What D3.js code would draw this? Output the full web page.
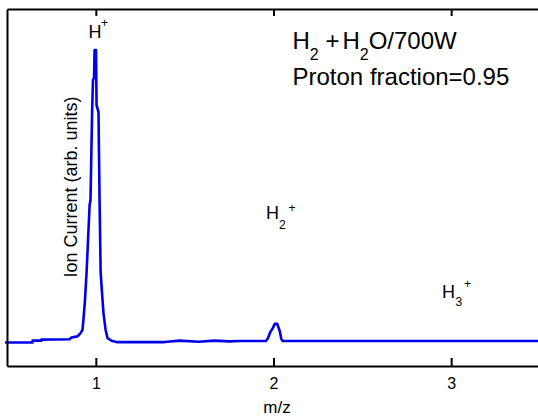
<!DOCTYPE html>
<html>
<head>
<meta charset="utf-8">
<script src="https://cdn.jsdelivr.net/npm/d3@7"></script>
<style>
  body { margin: 0; background: #fff; }
  text { font-family: "Liberation Sans", Arial, sans-serif; fill: #000; }
</style>
</head>
<body>
<script>
// m/z positions and ion current (arb. units)
var mz = [0.489, 0.644, 0.644, 0.694, 0.694, 0.852, 0.863, 0.897, 0.914, 0.925,
  0.931, 0.939, 0.948, 0.965, 0.970, 0.979, 0.984, 0.990, 0.993, 1.001,
  1.004, 1.015, 1.021, 1.027, 1.035, 1.043, 1.055, 1.066, 1.088, 1.117,
  1.387, 1.470, 1.580, 1.665, 1.750, 1.809, 1.957, 1.968, 1.982, 1.996,
  2.007, 2.021, 2.035, 2.044, 2.052, 3.500];
var current = [0.066, 0.066, 0.071, 0.071, 0.074, 0.075, 0.080, 0.083, 0.092, 0.101,
  0.134, 0.185, 0.263, 0.451, 0.465, 0.711, 0.801, 0.807, 0.885, 0.885,
  0.731, 0.711, 0.465, 0.263, 0.204, 0.148, 0.101, 0.078, 0.071, 0.067,
  0.067, 0.071, 0.068, 0.071, 0.069, 0.070, 0.070, 0.077, 0.095, 0.106,
  0.118, 0.118, 0.098, 0.076, 0.070, 0.070];
var xTicks = [1, 2, 3];

var W = 538, H = 417;
var m = { left: 7, top: 9, bottom: 366, right: 540 };

var svg = d3.select("body").append("svg")
  .attr("width", W)
  .attr("height", H);

var x = d3.scaleLinear().domain([0.5, 3.5]).range([m.left, m.right]);
var y = d3.scaleLinear().domain([0, 1]).range([m.bottom, m.top]);

var pts = mz.map(function(d, i) { return [d, current[i]]; });

var line = d3.line()
  .x(function(d) { return x(d[0]); })
  .y(function(d) { return y(d[1]); });

svg.append("path")
  .datum(pts)
  .attr("d", line)
  .attr("fill", "none")
  .attr("stroke", "#0000ea")
  .attr("stroke-width", 2.6)
  .attr("stroke-linejoin", "round");

// axes
var gx = svg.append("g")
  .attr("transform", "translate(0," + m.bottom + ")")
  .call(d3.axisBottom(x).tickValues(xTicks).tickFormat(d3.format("d"))
    .tickSizeInner(-8).tickSizeOuter(0).tickPadding(11.5));

var gt = svg.append("g")
  .attr("transform", "translate(0," + m.top + ")")
  .call(d3.axisTop(x).tickValues(xTicks).tickFormat("")
    .tickSizeInner(-7).tickSizeOuter(0));

var gl = svg.append("g")
  .attr("transform", "translate(" + m.left + ",0)")
  .call(d3.axisLeft(y).tickValues([]).tickSizeOuter(0));

[gx, gt, gl].forEach(function(g) {
  g.select(".domain").attr("stroke", "#000").attr("stroke-width", 2);
  g.selectAll(".tick line").attr("stroke", "#000").attr("stroke-width", 2);
});
gx.selectAll(".tick text")
  .style("font-family", "Liberation Sans, Arial, sans-serif")
  .style("font-size", "16px")
  .attr("fill", "#000");

svg.append("text")
  .attr("x", 277).attr("y", 413)
  .attr("text-anchor", "middle")
  .style("font-size", "17px")
  .text("m/z");

svg.append("text")
  .attr("transform", "translate(77,187) rotate(-90)")
  .attr("text-anchor", "middle")
  .style("font-size", "18px")
  .text("Ion Current (arb. units)");

// peak labels
function ionLabel(px, py, sub, subX, subY, supX, supY) {
  svg.append("text").attr("x", px).attr("y", py)
    .style("font-size", "18px").text("H");
  if (sub) {
    svg.append("text").attr("x", subX).attr("y", subY)
      .style("font-size", "12px").text(sub);
  }
  svg.append("text").attr("x", supX).attr("y", supY)
    .style("font-size", "12px").text("+");
}
ionLabel(88.5, 38, null, 0, 0, 101, 27);
ionLabel(266, 219, "2", 279, 229, 288.5, 212);
ionLabel(442, 298, "3", 455.5, 305.5, 464, 288);

// title block
var t1 = svg.append("text").attr("x", 292.5).attr("y", 48.5)
  .style("font-size", "24px");
t1.append("tspan").text("H");
t1.append("tspan").attr("dy", 11.5).style("font-size", "16px").text("2");
t1.append("tspan").attr("dy", -11.5).text(" +");
t1.append("tspan").attr("dx", 3).text("H");
t1.append("tspan").attr("dy", 11.5).style("font-size", "16px").text("2");
t1.append("tspan").attr("dy", -11.5).text("O/700W");

svg.append("text").attr("x", 292.5).attr("y", 84.5)
  .style("font-size", "24px")
  .text("Proton fraction=0.95");
</script>
</body>
</html>
